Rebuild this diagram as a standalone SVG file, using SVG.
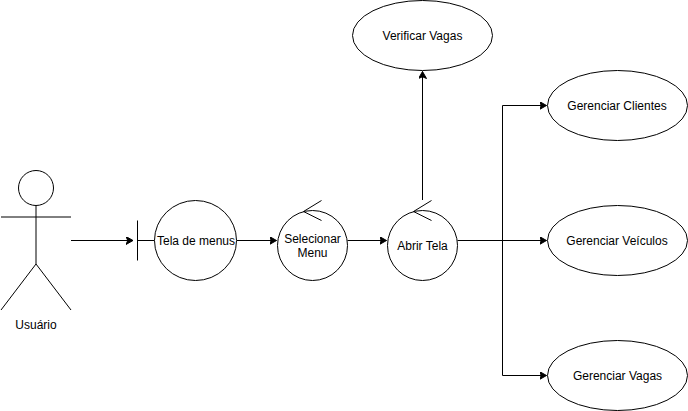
<svg xmlns="http://www.w3.org/2000/svg" width="688" height="411" viewBox="0 0 688 411">
<style>
.s{fill:#fff;stroke:#000;stroke-width:1}
.l{fill:none;stroke:#000;stroke-width:1}
text{font-family:"Liberation Sans",Arial,sans-serif;font-size:12px;fill:#000;text-anchor:middle}
</style>
<defs>
<marker id="a" markerUnits="userSpaceOnUse" markerWidth="10" markerHeight="10" refX="7" refY="4" orient="auto">
<path d="M0 0L7 4L0 8L1.75 4Z" fill="#000" stroke="#000" stroke-width="1"/>
</marker>
</defs>
<rect width="688" height="411" fill="#fff"/>
<g id="connectors">
<path class="l" marker-end="url(#a)" d="M71 240.5H133"/>
<path class="l" marker-end="url(#a)" d="M237 240.5H276.5"/>
<path class="l" marker-end="url(#a)" d="M347.5 240.5H386.5"/>
<path class="l" marker-end="url(#a)" d="M457.5 240.5H546.5"/>
<path class="l" marker-end="url(#a)" d="M502.5 240.5V105.5H546.5"/>
<path class="l" marker-end="url(#a)" d="M502.5 240.5V375.5H546.5"/>
<path class="l" marker-end="url(#a)" d="M422.5 200V71.5"/>
</g>
<g id="usuario">
<circle class="s" cx="36" cy="188" r="17.5"/>
<path class="l" d="M36 205.5V264M1 217H71M1 310L36 264L71 310"/>
<text x="36" y="329">Usuário</text>
</g>
<g id="tela-de-menus">
<path class="l" d="M137.5 220.5V260.5M137.5 240.5H154.5"/>
<ellipse class="s" cx="195.5" cy="240.5" rx="41" ry="40"/>
<text x="196" y="245">Tela de menus</text>
</g>
<g id="selecionar-menu">
<circle class="s" cx="312.5" cy="245.5" r="35"/>
<path class="l" d="M321.5 200.5L303.5 211.5L321.5 220.5"/>
<text x="312.5" y="243">Selecionar</text>
<text x="312.5" y="257">Menu</text>
</g>
<g id="abrir-tela">
<circle class="s" cx="422.5" cy="245.5" r="35"/>
<path class="l" d="M431.5 200.5L413.5 211.5L431.5 220.5"/>
<text x="422.5" y="250">Abrir Tela</text>
</g>
<g id="verificar-vagas">
<ellipse class="s" cx="422.5" cy="35.5" rx="70" ry="35"/>
<text x="422.5" y="40">Verificar Vagas</text>
</g>
<g id="gerenciar-clientes">
<ellipse class="s" cx="617.5" cy="105.5" rx="70" ry="35"/>
<text x="617" y="110">Gerenciar Clientes</text>
</g>
<g id="gerenciar-veiculos">
<ellipse class="s" cx="617.5" cy="240.5" rx="70" ry="35"/>
<text x="617" y="245">Gerenciar Veículos</text>
</g>
<g id="gerenciar-vagas">
<ellipse class="s" cx="617.5" cy="375.5" rx="70" ry="35"/>
<text x="617.5" y="380">Gerenciar Vagas</text>
</g>
</svg>
